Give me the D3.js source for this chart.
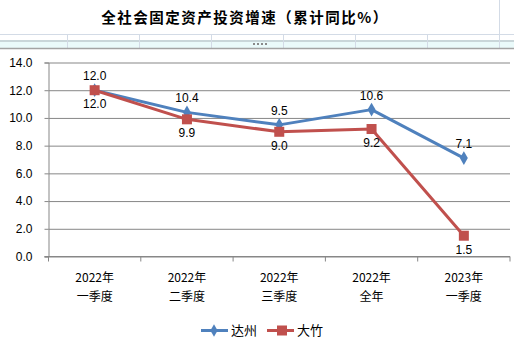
<!DOCTYPE html>
<html><head><meta charset="utf-8">
<script src="https://cdn.jsdelivr.net/npm/d3@7"></script>
<style>body{margin:0;background:#fff}svg{display:block}</style>
</head><body><svg id="c" width="514" height="340"></svg>
<script>
const title = "全社会固定资产投资增速（累计同比%）";
const categories = [["2022年","一季度"],["2022年","二季度"],["2022年","三季度"],["2022年","全年"],["2023年","一季度"]];
const seriesNames = ["达州","大竹"];
const dazhou = [12.0, 10.4, 9.5, 10.6, 7.1];
const dazhu = [12.0, 9.9, 9.0, 9.2, 1.5];
const yTicks = [0,2,4,6,8,10,12,14];
const colors = ["#4F81BD","#C0504D"];

const svg = d3.select("#c");
const font = "'Liberation Sans', Arial, sans-serif";
const cjk = "'Noto Sans CJK SC', sans-serif";

// spreadsheet strip
const strip = svg.append("g");
strip.append("rect").attr("x",0).attr("y",41).attr("width",514).attr("height",7).attr("fill","#eafafa");
strip.append("line").attr("x1",0).attr("x2",514).attr("y1",34.5).attr("y2",34.5).attr("stroke","#d3dbe6");
strip.append("line").attr("x1",0).attr("x2",514).attr("y1",41).attr("y2",41).attr("stroke","#c9d6d9").attr("stroke-width",2);
d3.range(67, 500, 72).forEach(x=>{
  strip.append("line").attr("x1",x+0.5).attr("x2",x+0.5).attr("y1",34).attr("y2",48).attr("stroke","#d3dbe6");
});
strip.append("line").attr("x1",499.5).attr("x2",499.5).attr("y1",0).attr("y2",48).attr("stroke","#d3dbe6");
strip.append("line").attr("x1",0).attr("x2",514).attr("y1",48.5).attr("y2",48.5).attr("stroke","#a3a3a3").attr("stroke-width",1.5);
d3.range(4).forEach(i=>strip.append("rect").attr("x",253+i*4).attr("y",43).attr("width",2).attr("height",2).attr("fill","#8a8a8a"));

svg.append("text").attr("x",245).attr("y",23).attr("text-anchor","middle")
  .attr("font-family",cjk).attr("font-weight","bold").attr("font-size",14.5)
  .attr("letter-spacing",1.5).attr("fill","#000").text(title);

const x0 = 48.5, x1 = 510;
const x = d3.scaleBand().domain(d3.range(categories.length)).range([x0,x1]);
const y = d3.scaleLinear().domain([0,14]).range([256.5,62.5]);

// gridlines
const gy = d3.axisLeft(y).tickValues(yTicks).tickSize(-(x1-x0)).tickFormat("");
svg.append("g").attr("transform",`translate(${x0},0)`).call(gy)
  .call(g=>g.select(".domain").remove())
  .call(g=>g.selectAll("line").attr("stroke","#878787"));
// left ticks
const ya = d3.axisLeft(y).tickValues(yTicks).tickSize(4).tickPadding(12).tickFormat(d3.format(".1f"));
svg.append("g").attr("transform",`translate(${x0},0)`).call(ya)
  .call(g=>g.select(".domain").attr("stroke","#878787"))
  .call(g=>g.selectAll("line").attr("stroke","#878787"))
  .call(g=>g.selectAll("text").attr("font-family",font).attr("font-size",12).attr("fill","#000"));

// x axis
const xa = svg.append("g").attr("transform",`translate(0,${y(0)})`);
xa.append("line").attr("x1",x0-4).attr("x2",x1).attr("stroke","#878787");
d3.range(categories.length+1).forEach(i=>{
  const xx = x0 + i*x.bandwidth();
  xa.append("line").attr("x1",xx).attr("x2",xx).attr("y1",0).attr("y2",5).attr("stroke","#878787");
});
categories.forEach((c,i)=>{
  const t = svg.append("text").attr("x",x(i)+x.bandwidth()/2).attr("text-anchor","middle")
    .attr("font-family",cjk).attr("font-size",12).attr("fill","#000");
  t.append("tspan").attr("x",x(i)+x.bandwidth()/2).attr("y",282).text(c[0]);
  t.append("tspan").attr("x",x(i)+x.bandwidth()/2).attr("y",301).text(c[1]);
});

const cx = i => x(i)+x.bandwidth()/2;
const line = d3.line().x((d,i)=>cx(i)).y(d=>y(d));
const data = [dazhou, dazhu];
data.forEach((s,k)=>{
  svg.append("path").datum(s).attr("d",line).attr("fill","none").attr("stroke",colors[k]).attr("stroke-width",3).attr("stroke-linejoin","round");
});
svg.append("g").selectAll("path").data(dazhou).join("path")
  .attr("transform",(d,i)=>`translate(${cx(i)},${y(d)})`)
  .attr("d", d3.symbol().type(d3.symbolDiamond).size(55)).attr("fill",colors[0]);
svg.append("g").selectAll("rect").data(dazhu).join("rect")
  .attr("x",(d,i)=>cx(i)-5).attr("y",d=>y(d)-5).attr("width",10).attr("height",10).attr("fill",colors[1]);

// labels
svg.append("g").selectAll("text").data(dazhou).join("text")
  .attr("x",(d,i)=>cx(i)).attr("y",d=>y(d)-10).attr("text-anchor","middle")
  .attr("font-family",font).attr("font-size",12).attr("fill","#000").text(d=>d3.format(".1f")(d));
svg.append("g").selectAll("text").data(dazhu).join("text")
  .attr("x",(d,i)=>cx(i)).attr("y",d=>y(d)+18).attr("text-anchor","middle")
  .attr("font-family",font).attr("font-size",12).attr("fill","#000").text(d=>d3.format(".1f")(d));

// legend
const lg = svg.append("g");
const items = [{n:seriesNames[0],c:colors[0],x:201,m:"d"},{n:seriesNames[1],c:colors[1],x:267,m:"s"}];
items.forEach(it=>{
  lg.append("line").attr("x1",it.x).attr("x2",it.x+27).attr("y1",330.5).attr("y2",330.5).attr("stroke",it.c).attr("stroke-width",3);
  if(it.m==="d") lg.append("path").attr("transform",`translate(${it.x+13},330.5)`).attr("d",d3.symbol().type(d3.symbolDiamond).size(45)).attr("fill",it.c);
  else lg.append("rect").attr("x",it.x+10).attr("y",325.5).attr("width",10).attr("height",10).attr("fill",it.c);
  lg.append("text").attr("x",it.x+30).attr("y",335).attr("font-family",cjk).attr("font-size",13).attr("fill","#000").text(it.n);
});
</script></body></html>
